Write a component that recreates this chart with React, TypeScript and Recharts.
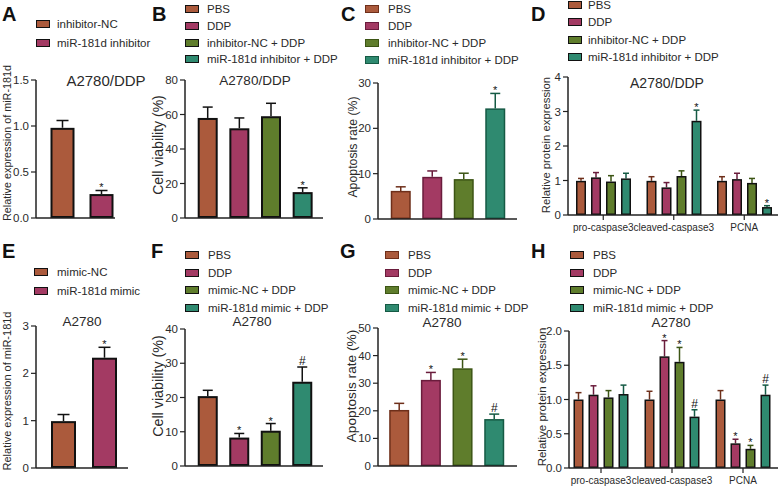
import React from 'react';
import { BarChart, Bar, XAxis, YAxis } from 'recharts';

const FONT = '"Liberation Sans", Arial, sans-serif';
const INK = '#2a2a2a';

// group colours (PBS / DDP / NC + DDP / miR-181d + DDP)
const FILLS = ['#ab5a3c', '#a33a63', '#5f7d2c', '#2f8a70'];
const DARKS = ['#6e2f1a', '#6a1c3c', '#3c5514', '#155a44'];
const BLACKS = ['#111', '#111', '#111', '#111'];

// legends
const legendA = ['inhibitor-NC', 'miR-181d inhibitor'];
const legendInh = ['PBS', 'DDP', 'inhibitor-NC + DDP', 'miR-181d inhibitor + DDP'];
const legendE = ['mimic-NC', 'miR-181d mimic'];
const legendMim = ['PBS', 'DDP', 'mimic-NC + DDP', 'miR-181d mimic + DDP'];

// A: miR-181d expression, A2780/DDP
const aValues = [0.98, 0.26];
const aErrors = [0.08, 0.04];
const aSig = ['', '*'];

// B: cell viability, A2780/DDP
const bValues = [58, 52, 59, 15];
const bErrors = [6.3, 6, 7.5, 2.5];
const bSig = ['', '', '', '*'];

// C: apoptosis rate, A2780/DDP
const cValues = [6.2, 9.3, 8.8, 24.4];
const cErrors = [0.9, 1.3, 1.3, 3.3];
const cSig = ['', '', '', '*'];

// E: miR-181d expression, A2780
const eValues = [0.99, 2.33];
const eErrors = [0.14, 0.22];
const eSig = ['', '*'];

// F: cell viability, A2780
const fValues = [20.4, 8.3, 10.3, 24.6];
const fErrors = [1.7, 1.2, 2.1, 4.3];
const fSig = ['', '*', '*', '#'];

// G: apoptosis rate, A2780
const gValues = [20.3, 31.2, 35.4, 17.0];
const gErrors = [2.4, 2.7, 3.3, 1.8];
const gSig = ['', '*', '*', '#'];

// D / H: protein expression
const proteins = ['pro-caspase3', 'cleaved-caspase3', 'PCNA'];

const dValues = [
  [0.99, 0.99, 0.99],
  [1.09, 0.8, 1.04],
  [0.97, 1.13, 0.93],
  [1.06, 2.73, 0.23],
];
const dErrors = [
  [0.07, 0.12, 0.12],
  [0.14, 0.14, 0.17],
  [0.17, 0.15, 0.13],
  [0.15, 0.31, 0.04],
];
const dSig = [
  ['', '', ''],
  ['', '', ''],
  ['', '', ''],
  ['', '*', '*'],
];

const hValues = [
  [1.0, 1.0, 1.0],
  [1.07, 1.63, 0.36],
  [1.03, 1.55, 0.28],
  [1.08, 0.75, 1.07],
];
const hErrors = [
  [0.1, 0.12, 0.13],
  [0.13, 0.23, 0.06],
  [0.1, 0.21, 0.05],
  [0.13, 0.1, 0.14],
];
const hSig = [
  ['', '', ''],
  ['', '*', '*'],
  ['', '*', '*'],
  ['', '#', '#'],
];

const simpleRows = (values: number[], errors: number[], sig: string[]) =>
  values.map((v, i) => ({ name: `g${i}`, v, e: errors[i], s: sig[i] }));

const groupedRows = (values: number[][], errors: number[][], sig: string[][]) =>
  proteins.map((name, j) => {
    const row: any = { name };
    values.forEach((_, k) => {
      row[`v${k}`] = values[k][j];
      row[`e${k}`] = errors[k][j];
      row[`s${k}`] = sig[k][j];
    });
    return row;
  });

interface ShapeOpts {
  fills: string[];
  lines: string[];
  whisk: string[];
  sw: number;
  cap: number;
  series?: number;
}

// bar with upper error whisker and significance mark
const makeShape = (o: ShapeOpts) => (p: any) => {
  const { x, y, width, height, index, payload } = p;
  const k = o.series ?? index;
  const suf = o.series === undefined ? '' : String(o.series);
  const v = payload[`v${suf}`];
  const e = payload[`e${suf}`];
  const s = payload[`s${suf}`];
  const ep = v ? (height * e) / v : 0;
  const cx = x + width / 2;
  const top = y - ep;
  return (
    <g>
      <line x1={cx} x2={cx} y1={y} y2={top} stroke={o.whisk[k]} strokeWidth={1.5} />
      <line x1={cx - o.cap / 2} x2={cx + o.cap / 2} y1={top} y2={top} stroke={o.whisk[k]} strokeWidth={1.5} />
      <rect
        x={x + o.sw / 2}
        y={y + o.sw / 2}
        width={Math.max(width - o.sw, 0)}
        height={Math.max(height - o.sw, 0)}
        fill={o.fills[k]}
        stroke={o.lines[k]}
        strokeWidth={o.sw}
      />
      {s ? (
        <text x={cx} y={s === '#' ? top - 2 : top + 1} textAnchor="middle" fontSize={s === '#' ? 12 : 11} fill="#111" fontFamily={FONT}>
          {s}
        </text>
      ) : null}
    </g>
  );
};

interface Geo {
  x0: number;
  xEnd: number;
  yTop: number;
  yBase: number;
  max: number;
  ticks: number[];
  dec?: number;
  padL: number;
  padR: number;
}

const makeYTick = (dec: number) => (p: any) => (
  <text x={p.x} y={p.y} dy={4} textAnchor="end" fontSize={11.5} fill={INK} fontFamily={FONT}>
    {Number(p.payload.value).toFixed(dec)}
  </text>
);

const CatTick = (p: any) => (
  <text x={p.x} y={p.y} dy={9} textAnchor="middle" fontSize={10} fill={INK} fontFamily={FONT}>
    {p.payload.value}
  </text>
);

const Panel = ({ g, data, cat, children }: { g: Geo; data: any[]; cat?: boolean; children: React.ReactNode }) => {
  const yw = 45;
  const mt = 14;
  const mr = 2;
  const xh = cat ? 26 : 10;
  const w = yw + (g.xEnd - g.x0) + mr;
  const h = mt + (g.yBase - g.yTop) + xh;
  return (
    <div style={{ position: 'absolute', left: g.x0 - yw, top: g.yTop - mt }}>
      <BarChart width={w} height={h} data={data} margin={{ top: mt, right: mr, left: 0, bottom: 0 }} barGap={5}>
        <XAxis
          dataKey="name"
          height={xh}
          interval={0}
          padding={{ left: g.padL, right: g.padR }}
          axisLine={{ stroke: '#222', strokeWidth: 1.5 }}
          tickLine={cat ? { stroke: '#222', strokeWidth: 1.2 } : false}
          tickSize={5}
          tick={cat ? CatTick : false}
        />
        <YAxis
          width={yw}
          domain={[0, g.max]}
          ticks={g.ticks}
          interval={0}
          allowDataOverflow
          axisLine={{ stroke: '#222', strokeWidth: 1.5 }}
          tickLine={{ stroke: '#222', strokeWidth: 1.2 }}
          tickSize={5}
          tick={makeYTick(g.dec ?? 0)}
        />
        {children}
      </BarChart>
    </div>
  );
};

const Legend = ({ sx, lx, rows, labels, lines }: { sx: number; lx: number; rows: number[]; labels: string[]; lines: string[] }) => (
  <>
    {labels.map((t, i) => (
      <React.Fragment key={t}>
        <div
          style={{
            position: 'absolute',
            left: sx,
            top: rows[i] - 4,
            width: 14,
            height: 8,
            boxSizing: 'border-box',
            background: FILLS[i],
            border: `1.5px solid ${lines[i]}`,
          }}
        />
        <div style={{ position: 'absolute', left: lx, top: rows[i] - 7, fontSize: 11.5, lineHeight: '14px', color: INK, whiteSpace: 'nowrap' }}>
          {t}
        </div>
      </React.Fragment>
    ))}
  </>
);

const Letter = ({ x, y, t }: { x: number; y: number; t: string }) => (
  <div style={{ position: 'absolute', left: x, top: y, fontSize: 20, lineHeight: '20px', fontWeight: 700, color: '#111' }}>{t}</div>
);

const Title = ({ cx, cy, t, size }: { cx: number; cy: number; t: string; size: number }) => (
  <div style={{ position: 'absolute', left: cx, top: cy, transform: 'translate(-50%, -50%)', fontSize: size, color: INK, whiteSpace: 'nowrap' }}>{t}</div>
);

const YLabel = ({ cx, cy, t, size }: { cx: number; cy: number; t: string; size: number }) => (
  <div
    style={{
      position: 'absolute',
      left: cx,
      top: cy,
      transform: 'translate(-50%, -50%) rotate(-90deg)',
      fontSize: size,
      lineHeight: '1',
      color: INK,
      whiteSpace: 'nowrap',
    }}
  >
    {t}
  </div>
);

const gA: Geo = { x0: 36, xEnd: 115, yTop: 80, yBase: 218, max: 1.5, ticks: [0, 0.5, 1, 1.5], dec: 1, padL: 6.5, padR: -5.5 };
const gB: Geo = { x0: 185, xEnd: 323, yTop: 80, yBase: 218, max: 80, ticks: [0, 20, 40, 60, 80], padL: 6.7, padR: 4.7 };
const gC: Geo = { x0: 378, xEnd: 517, yTop: 83, yBase: 219, max: 30, ticks: [0, 10, 20, 30], padL: 6.75, padR: 6.25 };
const gD: Geo = { x0: 568, xEnd: 780, yTop: 77, yBase: 215, max: 4, ticks: [0, 1, 2, 3, 4], padL: 0, padR: 0.5 };
const gE: Geo = { x0: 36, xEnd: 128, yTop: 326, yBase: 468, max: 3, ticks: [0, 1, 2, 3], padL: 7, padR: 3 };
const gF: Geo = { x0: 185, xEnd: 323, yTop: 329, yBase: 466, max: 40, ticks: [0, 10, 20, 30, 40], padL: 6.75, padR: 5.25 };
const gG: Geo = { x0: 378, xEnd: 517, yTop: 328, yBase: 466, max: 50, ticks: [0, 10, 20, 30, 40, 50], padL: 5.2, padR: 7.1 };
const gH: Geo = { x0: 569, xEnd: 780, yTop: 331, yBase: 468, max: 2, ticks: [0, 0.5, 1, 1.5, 2], dec: 1, padL: -3.5, padR: 1.5 };

const blackShape = (cap: number) => makeShape({ fills: FILLS, lines: BLACKS, whisk: BLACKS, sw: 2, cap });
const tintShape = (cap: number) => makeShape({ fills: FILLS, lines: DARKS, whisk: DARKS, sw: 1.5, cap });

const groupBars = (n: number) =>
  Array.from({ length: n }, (_, k) => (
    <Bar
      key={k}
      dataKey={`v${k}`}
      barSize={10}
      isAnimationActive={false}
      shape={makeShape({ fills: FILLS, lines: BLACKS, whisk: DARKS, sw: 1.5, cap: 6, series: k })}
    />
  ));

export default function App() {
  return (
    <div
      style={{
        position: 'absolute',
        left: 0,
        top: 0,
        width: 778,
        height: 487,
        overflow: 'hidden',
        background: '#fff',
        fontFamily: FONT,
      }}
    >
      {/* A */}
      <Letter x={2} y={4} t="A" />
      <Legend sx={36} lx={57} rows={[24, 43]} labels={legendA} lines={BLACKS} />
      <Title cx={106} cy={80} t="A2780/DDP" size={15} />
      <YLabel cx={7} cy={143} t="Relative expression of miR-181d" size={10.8} />
      <Panel g={gA} data={simpleRows(aValues, aErrors, aSig)}>
        <Bar dataKey="v" barSize={24} isAnimationActive={false} shape={blackShape(12)} />
      </Panel>

      {/* B */}
      <Letter x={152} y={4} t="B" />
      <Legend sx={185} lx={207} rows={[9, 26, 43, 59]} labels={legendInh} lines={BLACKS} />
      <Title cx={255} cy={80} t="A2780/DDP" size={13.5} />
      <YLabel cx={158} cy={145} t="Cell viability (%)" size={14} />
      <Panel g={gB} data={simpleRows(bValues, bErrors, bSig)}>
        <Bar dataKey="v" barSize={20} isAnimationActive={false} shape={blackShape(10)} />
      </Panel>

      {/* C */}
      <Letter x={341} y={4} t="C" />
      <Legend sx={365} lx={388} rows={[9, 26, 43, 60]} labels={legendInh} lines={DARKS} />
      <YLabel cx={353} cy={147} t="Apoptosis rate (%)" size={12.3} />
      <Panel g={gC} data={simpleRows(cValues, cErrors, cSig)}>
        <Bar dataKey="v" barSize={20} isAnimationActive={false} shape={tintShape(10)} />
      </Panel>

      {/* D */}
      <Letter x={531} y={4} t="D" />
      <Legend sx={568} lx={588} rows={[5, 22, 40, 57]} labels={legendInh} lines={BLACKS} />
      <Title cx={667} cy={83} t="A2780/DDP" size={14} />
      <YLabel cx={547} cy={145} t="Relative protein expression" size={11.3} />
      <Panel g={gD} data={groupedRows(dValues, dErrors, dSig)} cat>
        {groupBars(4)}
      </Panel>

      {/* E */}
      <Letter x={2} y={241} t="E" />
      <Legend sx={34} lx={57} rows={[272, 291]} labels={legendE} lines={BLACKS} />
      <Title cx={82} cy={321} t="A2780" size={13.5} />
      <YLabel cx={7} cy={391} t="Relative expression of miR-181d" size={11} />
      <Panel g={gE} data={simpleRows(eValues, eErrors, eSig)}>
        <Bar dataKey="v" barSize={25} isAnimationActive={false} shape={blackShape(12)} />
      </Panel>

      {/* F */}
      <Letter x={151} y={241} t="F" />
      <Legend sx={185} lx={208} rows={[255, 273, 290, 308]} labels={legendMim} lines={BLACKS} />
      <Title cx={252} cy={321} t="A2780" size={13.5} />
      <YLabel cx={158} cy={386} t="Cell viability (%)" size={14.3} />
      <Panel g={gF} data={simpleRows(fValues, fErrors, fSig)}>
        <Bar dataKey="v" barSize={20} isAnimationActive={false} shape={blackShape(10)} />
      </Panel>

      {/* G */}
      <Letter x={340} y={241} t="G" />
      <Legend sx={385} lx={408} rows={[255, 273, 290, 308]} labels={legendMim} lines={DARKS} />
      <Title cx={442} cy={322} t="A2780" size={13.5} />
      <YLabel cx={352} cy={386} t="Apoptosis rate (%)" size={13.7} />
      <Panel g={gG} data={simpleRows(gValues, gErrors, gSig)}>
        <Bar dataKey="v" barSize={20} isAnimationActive={false} shape={tintShape(10)} />
      </Panel>

      {/* H */}
      <Letter x={531} y={241} t="H" />
      <Legend sx={570} lx={593} rows={[255, 273, 290, 308]} labels={legendMim} lines={BLACKS} />
      <Title cx={671} cy={322} t="A2780" size={13.5} />
      <YLabel cx={543} cy={397} t="Relative protein expression" size={11.5} />
      <Panel g={gH} data={groupedRows(hValues, hErrors, hSig)} cat>
        {groupBars(4)}
      </Panel>
    </div>
  );
}
